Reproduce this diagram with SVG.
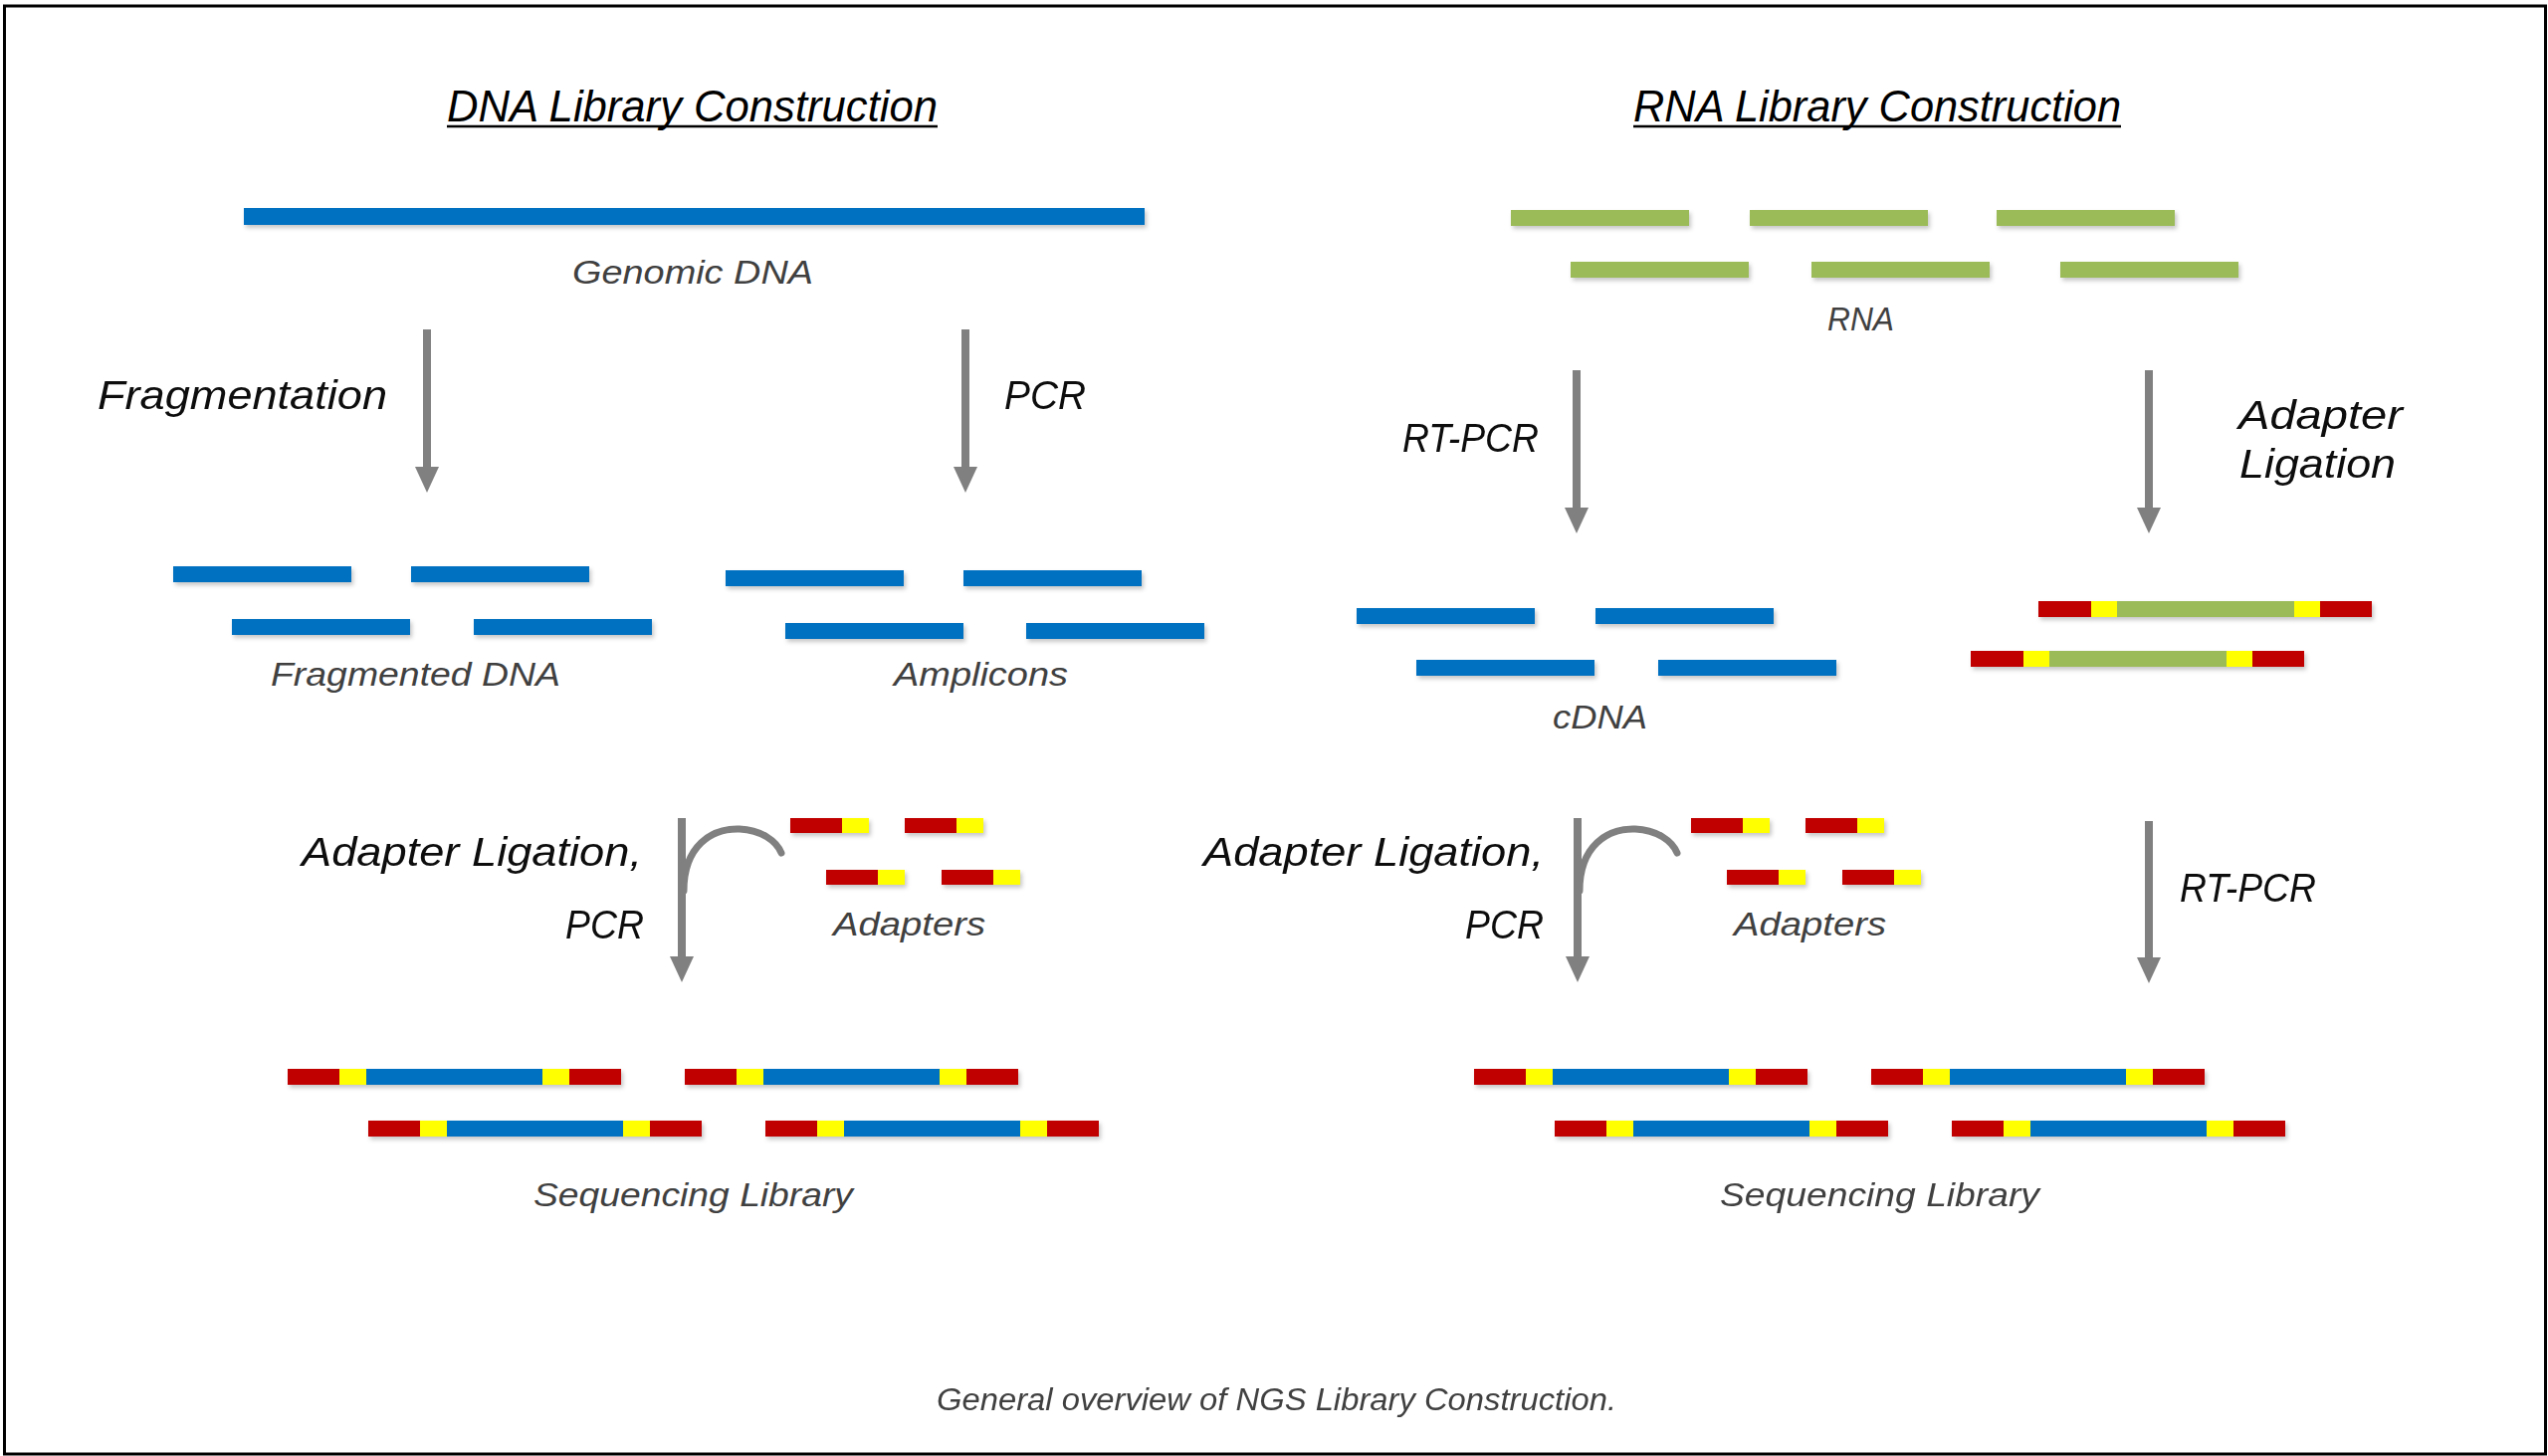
<svg xmlns="http://www.w3.org/2000/svg" xmlns:xlink="http://www.w3.org/1999/xlink" width="2560" height="1463" viewBox="0 0 2560 1463">
<style>
.title{font-family:"Liberation Sans",Arial,sans-serif;font-style:italic;font-size:44px;fill:#000}
.lbl{font-family:"Liberation Sans",Arial,sans-serif;font-style:italic;font-size:40px;fill:#0d0d0d}
.gl{font-family:"Liberation Sans",Arial,sans-serif;font-style:italic;font-size:34px;fill:#404040}
.cap{font-family:"Liberation Sans",Arial,sans-serif;font-style:italic;font-size:31px;fill:#404040}
.blue{fill:#0070C0}
.green{fill:#9BBB59}
.red{fill:#C00000}
.yel{fill:#FFFF00}
.arr{stroke:#808080;stroke-width:8;fill:none}
.curve{stroke:#808080;stroke-width:7;fill:none;stroke-linecap:round}
</style>
<defs>
<filter id="sh" x="-5%" y="-50%" width="110%" height="220%">
<feDropShadow dx="2" dy="3" stdDeviation="2" flood-color="#000" flood-opacity="0.22"/>
</filter>
<marker id="ah" markerUnits="userSpaceOnUse" markerWidth="26" markerHeight="24" viewBox="0 0 26 24" refX="6" refY="12" orient="auto">
<path d="M0,0 L26,12 L0,24 z" fill="#808080"/>
</marker>
<g id="libD">
<rect class="red" x="0" y="0" width="52" height="16"/>
<rect class="yel" x="52" y="0" width="27" height="16"/>
<rect class="blue" x="79" y="0" width="177" height="16"/>
<rect class="yel" x="256" y="0" width="27" height="16"/>
<rect class="red" x="283" y="0" width="52" height="16"/>
</g>
<g id="libR">
<rect class="red" x="0" y="0" width="53" height="16"/>
<rect class="yel" x="53" y="0" width="26" height="16"/>
<rect class="green" x="79" y="0" width="178" height="16"/>
<rect class="yel" x="257" y="0" width="26" height="16"/>
<rect class="red" x="283" y="0" width="52" height="16"/>
</g>
<g id="adp">
<rect class="red" x="0" y="0" width="52" height="15"/>
<rect class="yel" x="52" y="0" width="27" height="15"/>
</g>
</defs>
<rect x="0" y="0" width="2560" height="1463" fill="#fff"/>
<rect x="4.5" y="6" width="2553" height="1455" fill="none" stroke="#000" stroke-width="3"/>

<g id="titles">
<text class="title" x="449" y="122" textLength="493" lengthAdjust="spacingAndGlyphs">DNA Library Construction</text>
<line x1="449" y1="127" x2="942" y2="127" stroke="#000" stroke-width="2.5"/>
<text class="title" x="1641" y="122" textLength="490" lengthAdjust="spacingAndGlyphs">RNA Library Construction</text>
<line x1="1641" y1="127" x2="2131" y2="127" stroke="#000" stroke-width="2.5"/>
</g>

<g id="genomic-dna">
<rect class="blue" x="245" y="209" width="905" height="17" filter="url(#sh)"/>
<text class="gl" x="575" y="285" textLength="242" lengthAdjust="spacingAndGlyphs">Genomic DNA</text>
</g>

<g id="fragmented-dna" filter="url(#sh)">
<rect class="blue" x="174" y="569" width="179" height="16"/>
<rect class="blue" x="413" y="569" width="179" height="16"/>
<rect class="blue" x="233" y="622" width="179" height="16"/>
<rect class="blue" x="476" y="622" width="179" height="16"/>
</g>
<text class="gl" x="272" y="689" textLength="291" lengthAdjust="spacingAndGlyphs">Fragmented DNA</text>

<g id="amplicons" filter="url(#sh)">
<rect class="blue" x="729" y="573" width="179" height="16"/>
<rect class="blue" x="968" y="573" width="179" height="16"/>
<rect class="blue" x="789" y="626" width="179" height="16"/>
<rect class="blue" x="1031" y="626" width="179" height="16"/>
</g>
<text class="gl" x="898" y="689" textLength="175" lengthAdjust="spacingAndGlyphs">Amplicons</text>

<g id="dna-adapters" filter="url(#sh)">
<use xlink:href="#adp" x="794" y="822"/>
<use xlink:href="#adp" x="909" y="822"/>
<use xlink:href="#adp" x="830" y="874"/>
<use xlink:href="#adp" x="946" y="874"/>
</g>
<text class="gl" x="837" y="940" textLength="153" lengthAdjust="spacingAndGlyphs">Adapters</text>

<g id="dna-library" filter="url(#sh)">
<use xlink:href="#libD" x="289" y="1074"/>
<use xlink:href="#libD" x="688" y="1074"/>
<use xlink:href="#libD" x="370" y="1126"/>
<use xlink:href="#libD" x="769" y="1126"/>
</g>
<text class="gl" x="536" y="1212" textLength="321" lengthAdjust="spacingAndGlyphs">Sequencing Library</text>

<g id="rna" filter="url(#sh)">
<rect class="green" x="1518" y="211" width="179" height="16"/>
<rect class="green" x="1758" y="211" width="179" height="16"/>
<rect class="green" x="2006" y="211" width="179" height="16"/>
<rect class="green" x="1578" y="263" width="179" height="16"/>
<rect class="green" x="1820" y="263" width="179" height="16"/>
<rect class="green" x="2070" y="263" width="179" height="16"/>
</g>
<text class="gl" x="1836" y="332" textLength="67" lengthAdjust="spacingAndGlyphs">RNA</text>

<g id="cdna" filter="url(#sh)">
<rect class="blue" x="1363" y="611" width="179" height="16"/>
<rect class="blue" x="1603" y="611" width="179" height="16"/>
<rect class="blue" x="1423" y="663" width="179" height="16"/>
<rect class="blue" x="1666" y="663" width="179" height="16"/>
</g>
<text class="gl" x="1560" y="732" textLength="95" lengthAdjust="spacingAndGlyphs">cDNA</text>

<g id="rna-ligated" filter="url(#sh)">
<use xlink:href="#libR" x="2048" y="604"/>
<use xlink:href="#libR" x="1980" y="654"/>
</g>

<g id="rna-adapters" filter="url(#sh)">
<use xlink:href="#adp" x="1699" y="822"/>
<use xlink:href="#adp" x="1814" y="822"/>
<use xlink:href="#adp" x="1735" y="874"/>
<use xlink:href="#adp" x="1851" y="874"/>
</g>
<text class="gl" x="1742" y="940" textLength="153" lengthAdjust="spacingAndGlyphs">Adapters</text>

<g id="rna-library" filter="url(#sh)">
<use xlink:href="#libD" x="1481" y="1074"/>
<use xlink:href="#libD" x="1880" y="1074"/>
<use xlink:href="#libD" x="1562" y="1126"/>
<use xlink:href="#libD" x="1961" y="1126"/>
</g>
<text class="gl" x="1728" y="1212" textLength="321" lengthAdjust="spacingAndGlyphs">Sequencing Library</text>

<g id="connectors">
<line class="arr" x1="429" y1="331" x2="429" y2="475" marker-end="url(#ah)"/>
<line class="arr" x1="970" y1="331" x2="970" y2="475" marker-end="url(#ah)"/>
<line class="arr" x1="1584" y1="372" x2="1584" y2="516" marker-end="url(#ah)"/>
<line class="arr" x1="2159" y1="372" x2="2159" y2="516" marker-end="url(#ah)"/>
<line class="arr" x1="685" y1="822" x2="685" y2="967" marker-end="url(#ah)"/>
<path class="curve" d="M687,895 C687,850 715,832 743,833 C765,834 780,845 785,857"/>
<line class="arr" x1="1585" y1="822" x2="1585" y2="967" marker-end="url(#ah)"/>
<path class="curve" d="M1587,895 C1587,850 1615,832 1643,833 C1665,834 1680,845 1685,857"/>
<line class="arr" x1="2159" y1="825" x2="2159" y2="968" marker-end="url(#ah)"/>
</g>

<g id="step-labels">
<text class="lbl" x="98" y="411" textLength="291" lengthAdjust="spacingAndGlyphs">Fragmentation</text>
<text class="lbl" x="1009" y="411" textLength="82" lengthAdjust="spacingAndGlyphs">PCR</text>
<text class="lbl" x="1409" y="454" textLength="137" lengthAdjust="spacingAndGlyphs">RT-PCR</text>
<text class="lbl" x="2249" y="431" textLength="165" lengthAdjust="spacingAndGlyphs">Adapter</text>
<text class="lbl" x="2250" y="480" textLength="157" lengthAdjust="spacingAndGlyphs">Ligation</text>
<text class="lbl" x="303" y="870" textLength="342" lengthAdjust="spacingAndGlyphs">Adapter Ligation,</text>
<text class="lbl" x="568" y="943" textLength="79" lengthAdjust="spacingAndGlyphs">PCR</text>
<text class="lbl" x="1209" y="870" textLength="342" lengthAdjust="spacingAndGlyphs">Adapter Ligation,</text>
<text class="lbl" x="1472" y="943" textLength="79" lengthAdjust="spacingAndGlyphs">PCR</text>
<text class="lbl" x="2190" y="906" textLength="137" lengthAdjust="spacingAndGlyphs">RT-PCR</text>
</g>

<text class="cap" x="941" y="1417" textLength="683" lengthAdjust="spacingAndGlyphs">General overview of NGS Library Construction.</text>
</svg>
